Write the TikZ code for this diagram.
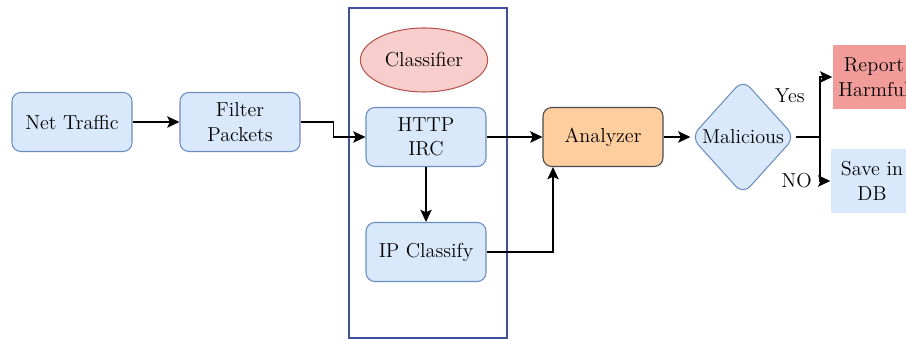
\documentclass[tikz,border=0pt]{standalone}
\usepackage{tikz}
\usetikzlibrary{positioning,arrows.meta,shapes.geometric}

\definecolor{boxfill}{HTML}{DAE8FC}
\definecolor{boxline}{HTML}{6C8EBF}
\definecolor{pinkfill}{HTML}{F8CECC}
\definecolor{pinkline}{HTML}{B85450}
\definecolor{orangefill}{HTML}{FFCE9F}
\definecolor{orangeline}{HTML}{4A4A4A}
\definecolor{redfill}{HTML}{F19C99}
\definecolor{frameline}{HTML}{3F50A0}

\begin{document}
\begin{tikzpicture}[x=0.02cm,y=-0.02cm,
	font=\fontsize{11.5}{14}\selectfont,
	>={Stealth[length=7pt,width=6.5pt,inset=1.5pt]},
	every path/.style={line width=0.8pt},
	blk/.style={rectangle,rounded corners=5pt,draw=boxline,fill=boxfill,
		line width=0.6pt,minimum width=2.4cm,minimum height=1.18cm,
		inner sep=0pt,align=center},
	flat/.style={rectangle,minimum width=1.64cm,minimum height=1.28cm,
		inner sep=0pt,align=center},]

	\useasboundingbox (0,0) rectangle (906,340);

	% container of the classifier
	\node [draw=frameline,line width=0.8pt,minimum width=3.16cm,minimum height=6.6cm] (frame) at (428,173) {};

	\node [blk] (net) at (72,122) {Net Traffic};
	\node [blk] (filter) at (240,122) {Filter\\Packets};
	\node [ellipse,draw=pinkline,fill=pinkfill,line width=0.6pt,
		minimum width=2.36cm,minimum height=1.28cm] (cls) at (424,60) {Classifier};
	\node [blk] (http) at (426,137) {HTTP\\IRC};
	\node [blk] (ipc) at (426,252) {IP Classify};
	\node [blk,draw=orangeline,fill=orangefill] (ana) at (603,137) {Analyzer};
	\node [diamond,draw=boxline,fill=boxfill,line width=0.6pt,rounded corners=6pt,
		aspect=0.9,inner sep=0pt,minimum width=2.08cm,minimum height=2.3cm] (mal) at (743,137) {Malicious};
	\node [flat,fill=redfill] (report) at (874,77) {Report\\Harmful};
	\node [flat,fill=boxfill] (save) at (872,181) {Save in\\DB};

	\coordinate (split) at (820,137);

	\draw[->] (net) -- (filter);
	\draw[->] (filter.east) -- ++(33,0) |- (http.west);
	\draw[->] (http) -- (ipc);
	\draw[->] (http) -- (ana);
	\draw[->] (ipc.east) -| ([xshift=-1cm]ana.south);
	\draw[->] (ana) -- (mal);
	\draw (mal) -- (split);
	\draw[->] (split) |- (report.west) node [pos=0.34,left=5pt] {Yes};
	\draw[->] (split) |- (save.west) node [pos=0.5,left=1pt] {NO};
\end{tikzpicture}
\end{document}
